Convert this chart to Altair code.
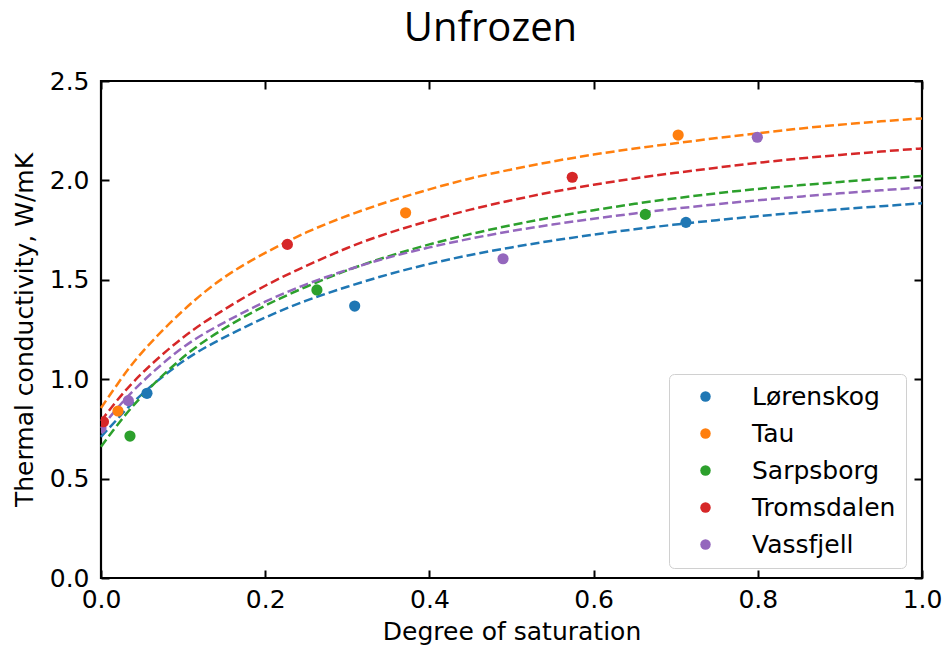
import altair as alt
import pandas as pd

# ---------------- data ----------------
sites = ["Lørenskog", "Tau", "Sarpsborg", "Tromsdalen", "Vassfjell"]
colors = ["#1f77b4", "#ff7f0e", "#2ca02c", "#d62728", "#9467bd"]

# fitted (dashed) curves, read at these degrees of saturation
sat_grid = [0.0, 0.02, 0.05, 0.1, 0.15, 0.2, 0.25, 0.3, 0.35, 0.4, 0.45,
            0.5, 0.55, 0.6, 0.65, 0.7, 0.75, 0.8, 0.85, 0.9, 0.95, 1.0]
fit_lorenskog = [0.71, 0.80, 0.925, 1.09, 1.21, 1.31, 1.395, 1.465, 1.527, 1.58, 1.625,
                 1.663, 1.697, 1.727, 1.754, 1.778, 1.80, 1.82, 1.838, 1.855, 1.87, 1.885]
fit_tau = [0.855, 0.975, 1.135, 1.345, 1.512, 1.635, 1.738, 1.822, 1.893, 1.955, 2.01,
           2.055, 2.095, 2.13, 2.16, 2.187, 2.213, 2.237, 2.26, 2.28, 2.297, 2.312]
fit_sarpsborg = [0.66, 0.77, 0.915, 1.11, 1.255, 1.37, 1.465, 1.548, 1.618, 1.678, 1.73,
                 1.775, 1.815, 1.85, 1.882, 1.91, 1.935, 1.957, 1.975, 1.992, 2.008, 2.022]
fit_tromsdalen = [0.79, 0.895, 1.03, 1.21, 1.35, 1.47, 1.57, 1.66, 1.735, 1.797, 1.853,
                  1.90, 1.942, 1.978, 2.01, 2.038, 2.064, 2.088, 2.11, 2.128, 2.145, 2.161]
fit_vassfjell = [0.754, 0.855, 0.985, 1.16, 1.285, 1.39, 1.477, 1.55, 1.612, 1.663, 1.707,
                 1.745, 1.778, 1.807, 1.834, 1.858, 1.88, 1.90, 1.918, 1.935, 1.95, 1.965]
fits = [fit_lorenskog, fit_tau, fit_sarpsborg, fit_tromsdalen, fit_vassfjell]

# measured points
pts_lorenskog_x = [0.056, 0.309, 0.7125]
pts_lorenskog_y = [0.929, 1.368, 1.789]
pts_tau_x = [0.0207, 0.371, 0.703]
pts_tau_y = [0.84, 1.837, 2.228]
pts_sarpsborg_x = [0.0353, 0.263, 0.663]
pts_sarpsborg_y = [0.714, 1.449, 1.829]
pts_tromsdalen_x = [0.003, 0.227, 0.574]
pts_tromsdalen_y = [0.786, 1.678, 2.016]
pts_vassfjell_x = [0.0, 0.0333, 0.4897, 0.7994]
pts_vassfjell_y = [0.754, 0.892, 1.606, 2.217]
pts_x = [pts_lorenskog_x, pts_tau_x, pts_sarpsborg_x, pts_tromsdalen_x, pts_vassfjell_x]
pts_y = [pts_lorenskog_y, pts_tau_y, pts_sarpsborg_y, pts_tromsdalen_y, pts_vassfjell_y]

x_ticks = [0.0, 0.2, 0.4, 0.6, 0.8, 1.0]
y_ticks = [0.0, 0.5, 1.0, 1.5, 2.0, 2.5]

# ---------------- tables ----------------
curve_rows = []
for s, vals in zip(sites, fits):
    for xv, yv in zip(sat_grid, vals):
        curve_rows.append({"site": s, "sat": xv, "k": yv})
curve_df = pd.DataFrame(curve_rows)

pt_rows = []
for i, (s, xs_, ys_) in enumerate(zip(sites, pts_x, pts_y)):
    for xv, yv in zip(xs_, ys_):
        # the dry Vassfjell point sits underneath the Tromsdalen point
        z = -1 if (s == "Vassfjell" and xv == 0.0) else i
        pt_rows.append({"site": s, "sat": xv, "k": yv, "z": z})
pt_df = pd.DataFrame(pt_rows)

FONT = "DejaVu Sans"
FS = 25

xscale = alt.Scale(domain=[0, 1], nice=False, zero=False)
yscale = alt.Scale(domain=[0, 2.5], nice=False, zero=False)
cscale = alt.Scale(domain=sites, range=colors)


def tick_axis(orient, values):
    return alt.Axis(orient=orient, values=values, labels=False, title=None,
                    domain=False, grid=False, ticks=True, tickSize=8,
                    tickWidth=2, tickColor="black", offset=-8)


lines = alt.Chart(curve_df).mark_line(
    strokeDash=[9, 4], strokeWidth=2.5, interpolate="natural"
).encode(
    x=alt.X("sat:Q", scale=xscale,
            axis=alt.Axis(orient="bottom", values=x_ticks, format=".1f",
                          ticks=False, tickSize=0, domain=False, grid=False,
                          labelFlush=False, labelOverlap=False,
                          labelFont=FONT, labelFontSize=FS, labelColor="black",
                          labelPadding=9, title="Degree of saturation",
                          titleFont=FONT, titleFontSize=FS, titleFontWeight="normal",
                          titleColor="black", titlePadding=7)),
    y=alt.Y("k:Q", scale=yscale,
            axis=alt.Axis(orient="left", values=y_ticks, format=".1f",
                          ticks=False, tickSize=0, domain=False, grid=False,
                          labelFlush=False, labelOverlap=False,
                          labelFont=FONT, labelFontSize=FS, labelColor="black",
                          labelPadding=12, title="Thermal conductivity, W/mK",
                          titleFont=FONT, titleFontSize=FS, titleFontWeight="normal",
                          titleColor="black", titlePadding=12)),
    color=alt.Color("site:N", scale=cscale, legend=None),
    detail="site:N",
)

points = alt.Chart(pt_df).mark_circle(size=125, opacity=1, clip=True).encode(
    x=alt.X("sat:Q", scale=xscale, axis=tick_axis("bottom", x_ticks)),
    y=alt.Y("k:Q", scale=yscale, axis=tick_axis("left", y_ticks)),
    color=alt.Color("site:N", scale=cscale, sort=sites,
                    legend=alt.Legend(orient="none", legendX=568, legendY=293,
                                      title=None, labelFont=FONT, labelFontSize=FS,
                                      labelColor="black", symbolType="circle",
                                      symbolSize=110, symbolOffset=14,
                                      labelOffset=34, rowPadding=11, padding=10,
                                      fillColor="white", strokeColor="#d0d0d0",
                                      cornerRadius=5)),
    order=alt.Order("z:Q"),
)

frame_ticks = alt.Chart(pt_df).mark_circle(opacity=0).encode(
    x=alt.X("sat:Q", scale=xscale, axis=tick_axis("top", x_ticks)),
    y=alt.Y("k:Q", scale=yscale, axis=tick_axis("right", y_ticks)),
)

chart = alt.layer(lines, points, frame_ticks).resolve_axis(
    x="independent", y="independent"
).resolve_legend(color="independent").properties(
    width=821, height=497,
    title=alt.TitleParams("Unfrozen", font="Open Sans", fontSize=40,
                          fontWeight="normal", color="black", anchor="middle",
                          frame="group", dx=-21, baseline="alphabetic", offset=-12),
    autosize=alt.AutoSizeParams(type="none"),
    padding={"left": 93, "top": 73, "right": 21, "bottom": 68},
).configure_view(stroke="black", strokeWidth=2.2)

chart.save("out.html", embed_options={"renderer": "svg", "actions": False})
